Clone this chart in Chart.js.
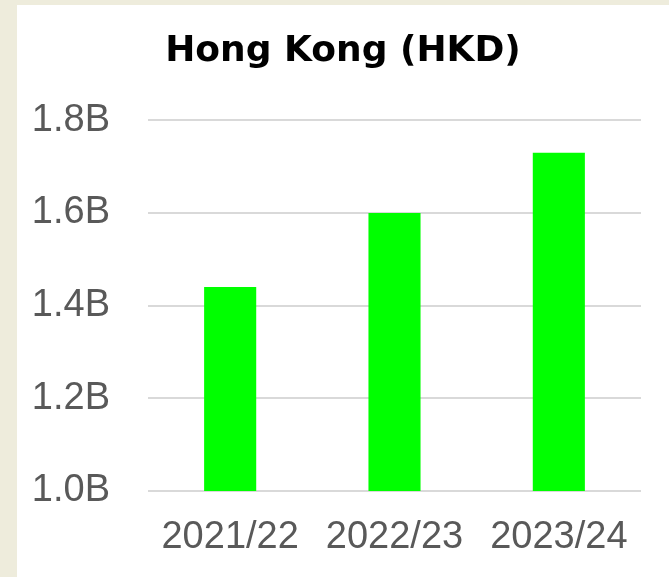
<!DOCTYPE html>
<html>
<head>
<meta charset="utf-8">
<script src="https://cdn.jsdelivr.net/npm/chart.js@4"></script>
<style>
  html, body { margin: 0; padding: 0; background: #eeecdc; }
  body { width: 669px; height: 577px; position: relative; overflow: hidden; }
  #panel { position: absolute; left: 17px; top: 5px; width: 652px; height: 572px; background: #fff; }
</style>
</head>
<body>
<div id="panel"><canvas id="hkChart" width="652" height="572"></canvas></div>
<script>
const years = ["2021/22", "2022/23", "2023/24"];
const revenueHKD = [1.44e9, 1.60e9, 1.73e9];
const yMin = 1.0e9;
const yMax = 1.8e9;
const yStep = 0.2e9;

const tickFont = { family: "'Liberation Sans', Arial, sans-serif", size: 38 };

new Chart(document.getElementById("hkChart").getContext("2d"), {
    type: "bar",
    data: {
        labels: years,
        datasets: [{
            label: "Hong Kong (HKD)",
            data: revenueHKD,
            backgroundColor: "#00ff00",
            categoryPercentage: 1.0,
            barPercentage: 0.317
        }]
    },
    options: {
        responsive: false,
        animation: false,
        layout: { padding: 0 },
        plugins: {
            legend: { display: false },
            tooltip: { enabled: false },
            title: {
                display: true,
                text: "Hong Kong (HKD)",
                color: "#000",
                font: { family: "'DejaVu Sans', sans-serif", size: 36, weight: "bold" },
                padding: { top: 25, bottom: 47 }
            }
        },
        scales: {
            x: {
                grid: { display: false, drawTicks: false },
                border: { display: false },
                ticks: { color: "#595959", font: tickFont, padding: 24, maxRotation: 0 },
                afterFit: s => { s.height = 86; }
            },
            y: {
                min: yMin,
                max: yMax,
                grid: { color: "#d9d9d9", lineWidth: 2, drawTicks: false },
                border: { display: false },
                ticks: {
                    stepSize: yStep,
                    color: "#595959",
                    font: tickFont,
                    padding: 38,
                    callback: v => (v / 1e9).toFixed(1) + "B"
                },
                afterFit: s => { s.width = 131; }
            },
            // empty right-hand axis, only keeps the white margin on the right
            yRight: {
                position: "right",
                grid: { display: false, drawTicks: false },
                border: { display: false },
                ticks: { display: false },
                afterFit: s => { s.width = 28; }
            }
        }
    }
});
</script>
</body>
</html>
